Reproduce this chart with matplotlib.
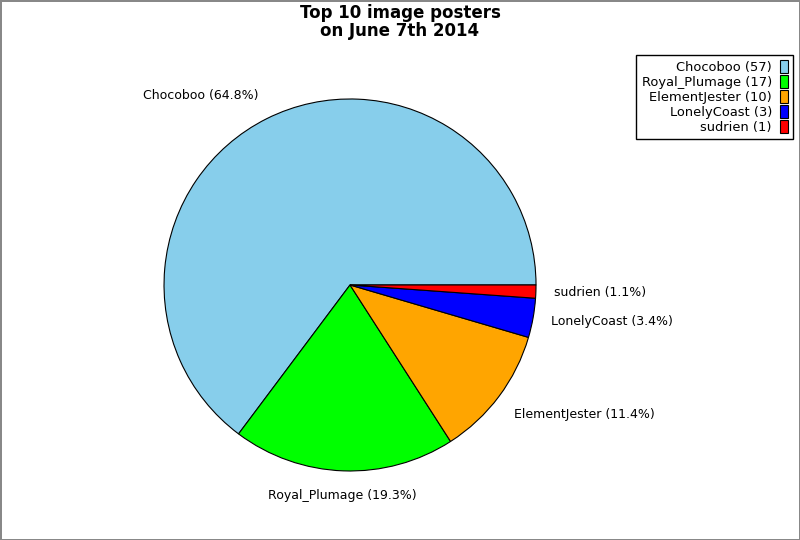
import matplotlib
matplotlib.use('Agg')
import numpy as np
import matplotlib.pyplot as plt

# Data
posters = ['Chocoboo', 'Royal_Plumage', 'ElementJester', 'LonelyCoast', 'sudrien']
counts = [57, 17, 10, 3, 1]
colors = ['skyblue', 'lime', 'orange', 'blue', 'red']

total = sum(counts)
pie_labels = [f'{n} ({100.0 * c / total:.1f}%)' for n, c in zip(posters, counts)]
legend_labels = [f'{n} ({c})' for n, c in zip(posters, counts)]

fig = plt.figure(figsize=(8, 5.4), dpi=100)
fig.patch.set_edgecolor('#888888')
fig.patch.set_linewidth(2)

ax = fig.add_axes([0.1469, 0.0417, 0.58125, 0.8611])
wedges, texts = ax.pie(counts, labels=pie_labels, colors=colors, startangle=0,
                       counterclock=True, labeldistance=1.1,
                       wedgeprops={'edgecolor': 'black', 'linewidth': 0.8},
                       textprops={'fontsize': 9})
ax.set_xlim(-1.25, 1.25)
ax.set_ylim(-1.25, 1.25)
ax.set_aspect('equal')

# label alignment depends on where the label sits around the pie
for w, t in zip(wedges, texts):
    ang = np.deg2rad((w.theta1 + w.theta2) / 2)
    c, s = np.cos(ang), np.sin(ang)
    if abs(c) < 0.2:
        t.set_ha('center')
    if s > 0.5:
        t.set_va('bottom')
    elif s < -0.5:
        t.set_va('top')

fig.suptitle('Top 10 image posters\non June 7th 2014', fontsize=12,
             fontweight='bold', y=0.993, linespacing=1.05)

leg = fig.legend(wedges, legend_labels, loc='upper right',
                 bbox_to_anchor=(0.991, 0.898), borderaxespad=0,
                 markerfirst=False, fancybox=False, framealpha=1,
                 edgecolor='black', fontsize=9.4, handlelength=0.6,
                 handleheight=1.1, handletextpad=0.6, labelspacing=0.1,
                 borderpad=0.4)
leg.get_frame().set_linewidth(1)

fig.savefig('out.png', dpi=100)
